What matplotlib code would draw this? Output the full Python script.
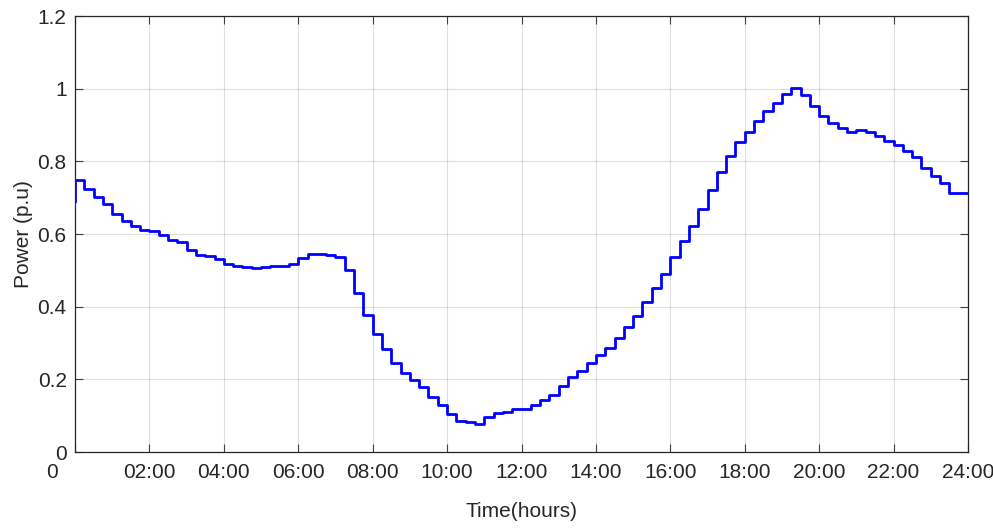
import matplotlib.pyplot as plt
import matplotlib.transforms as mtransforms
import numpy as np

# power profile, one value per 15 min interval (first value = start point at 0 h)
start_value = 0.69
power = [
    0.749, 0.724, 0.702, 0.683, 0.656, 0.637, 0.623, 0.612, 0.607, 0.598,
    0.584, 0.577, 0.555, 0.543, 0.540, 0.531, 0.518, 0.513, 0.508, 0.506,
    0.508, 0.512, 0.513, 0.517, 0.533, 0.545, 0.545, 0.543,
    0.538, 0.501, 0.437, 0.377, 0.324, 0.284, 0.244, 0.217, 0.198,
    0.180, 0.152, 0.129, 0.104, 0.086, 0.082, 0.078, 0.096, 0.107, 0.111,
    0.118, 0.119, 0.128,
    0.143, 0.157, 0.182, 0.206, 0.224, 0.244, 0.267, 0.287, 0.313,
    0.345, 0.374, 0.412, 0.451, 0.490, 0.536, 0.580, 0.623, 0.668, 0.720,
    0.771, 0.815, 0.852, 0.880, 0.911, 0.938, 0.961, 0.986, 1.003,
    0.982, 0.951, 0.926, 0.905, 0.892, 0.880, 0.887, 0.880, 0.871, 0.855,
    0.845, 0.829, 0.811, 0.783, 0.760, 0.740, 0.714, 0.714,
]
hours = np.arange(len(power) + 1) * 0.25
values = [start_value] + power

x_ticks = [0, 2, 4, 6, 8, 10, 12, 14, 16, 18, 20, 22, 24]
x_labels = ['0', '02:00', '04:00', '06:00', '08:00', '10:00', '12:00',
            '14:00', '16:00', '18:00', '20:00', '22:00', '24:00']
y_ticks = [0, 0.2, 0.4, 0.6, 0.8, 1.0, 1.2]
y_labels = ['0', '0.2', '0.4', '0.6', '0.8', '1', '1.2']

plt.rcParams['font.family'] = ['Liberation Sans', 'DejaVu Sans']
txt = '#262626'

fig = plt.figure(figsize=(9.93, 5.31), dpi=100)
ax = fig.add_axes([75 / 993, 79 / 531, 893 / 993, 436 / 531])

ax.plot(hours, values, drawstyle='steps-pre', color='#0000ff', lw=2)

ax.set_xlim(0, 24)
ax.set_ylim(0, 1.2)
ax.set_xticks(x_ticks)
ax.set_xticklabels(x_labels)
ax.set_yticks(y_ticks)
ax.set_yticklabels(y_labels)

ax.grid(True, color='#262626', alpha=0.15, lw=0.8)
ax.tick_params(direction='in', length=6, width=0.8, top=True, right=True,
               labelsize=15, colors='#404040', labelcolor=txt)
ax.tick_params(axis='x', pad=8)
ax.tick_params(axis='y', pad=6)
for s in ax.spines.values():
    s.set_color('#262626')
    s.set_linewidth(0.9)

# the "0" label on the time axis sits left of the axis origin
lbl0 = ax.get_xticklabels()[0]
lbl0.set_transform(lbl0.get_transform() +
                   mtransforms.ScaledTranslation(-0.23, 0, fig.dpi_scale_trans))

ax.set_xlabel('Time(hours)', fontsize=15, color=txt, labelpad=14)
ax.set_ylabel('Power (p.u)', fontsize=15, color=txt, labelpad=3)

fig.savefig('out.png', dpi=100)
